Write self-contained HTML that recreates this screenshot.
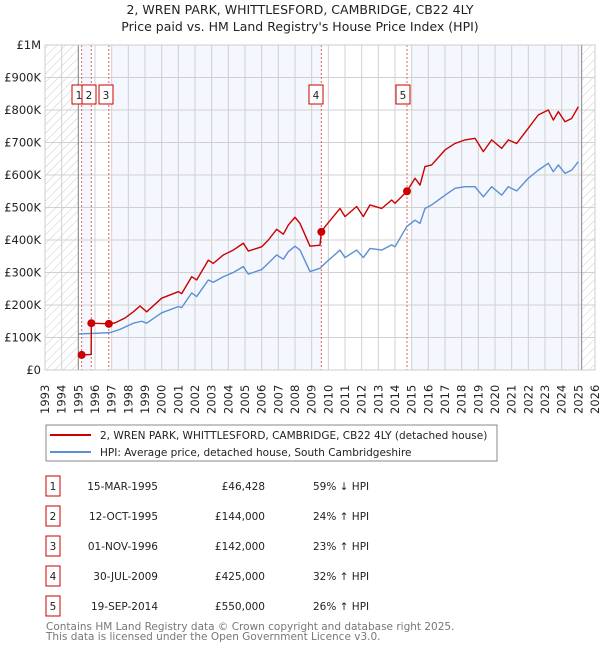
<!DOCTYPE html>
<html><head><meta charset="utf-8"><style>
body{margin:0;background:#fff;font-family:"DejaVu Sans","Liberation Sans",sans-serif;}
svg text{font-family:"DejaVu Sans","Liberation Sans",sans-serif;}
</style></head><body>
<svg id="c" width="600" height="650" xmlns="http://www.w3.org/2000/svg">
<defs><pattern id="h" width="6" height="6" patternUnits="userSpaceOnUse" patternTransform="rotate(45)"><line x1="0" y1="0" x2="0" y2="6" stroke="#ccc" stroke-width="1"/></pattern></defs>
<text x="300" y="14" text-anchor="middle" font-size="12.5" fill="#222">2, WREN PARK, WHITTLESFORD, CAMBRIDGE, CB22 4LY</text>
<text x="300" y="31" text-anchor="middle" font-size="12.5" fill="#222">Price paid vs. HM Land Registry's House Price Index (HPI)</text>
<g id="plot"></g>
<rect x="46" y="425" width="451" height="36" fill="#fff" stroke="#888"/>
<line x1="50" y1="435" x2="91" y2="435" stroke="#cc0000" stroke-width="2"/>
<text x="100" y="439" font-size="10.5" fill="#222">2, WREN PARK, WHITTLESFORD, CAMBRIDGE, CB22 4LY (detached house)</text>
<line x1="50" y1="452" x2="91" y2="452" stroke="#5b8fd4" stroke-width="2"/>
<text x="100" y="456" font-size="10.5" fill="#222">HPI: Average price, detached house, South Cambridgeshire</text>
<g id="table"></g>
<text x="46" y="630" font-size="10.5" fill="#777">Contains HM Land Registry data © Crown copyright and database right 2025.</text>
<text x="46" y="640" font-size="10.5" fill="#777">This data is licensed under the Open Government Licence v3.0.</text>
</svg>
<script>
const hpiYears=[1995.0,1996.0,1996.9,1997.5,1998.3,1998.8,1999.1,2000.0,2001.0,2001.2,2001.8,2002.1,2002.8,2003.1,2003.7,2004.3,2004.9,2005.2,2006.0,2006.4,2006.9,2007.3,2007.6,2008.0,2008.3,2008.9,2009.5,2009.8,2010.7,2011.0,2011.7,2012.1,2012.5,2013.2,2013.8,2014.0,2014.7,2015.2,2015.5,2015.8,2016.2,2017.0,2017.6,2018.2,2018.8,2019.3,2019.8,2020.4,2020.8,2021.3,2022.0,2022.6,2023.2,2023.5,2023.8,2024.2,2024.6,2025.0];
const hpiValues=[111,113,115,125,144,150,144,176,195,192,237,226,277,270,287,300,318,295,309,329,354,341,364,381,369,303,313,328,369,346,369,346,374,369,385,379,441,461,451,497,508,538,559,564,564,533,564,538,564,551,590,615,636,610,631,605,615,641];
const priceYears=[1995.2,1995.77,1995.78,1996.83,1997.2,1997.8,1998.3,1998.7,1999.1,2000.0,2001.0,2001.2,2001.8,2002.1,2002.8,2003.1,2003.7,2004.3,2004.9,2005.2,2006.0,2006.4,2006.9,2007.3,2007.6,2008.0,2008.3,2008.9,2009.5,2009.58,2009.8,2010.7,2011.0,2011.7,2012.1,2012.5,2013.2,2013.8,2014.0,2014.72,2015.2,2015.5,2015.8,2016.2,2017.0,2017.6,2018.2,2018.8,2019.3,2019.8,2020.4,2020.8,2021.3,2022.0,2022.6,2023.2,2023.5,2023.8,2024.2,2024.6,2025.0];
const priceValues=[46,48,144,142,145,160,179,197,179,221,241,235,287,277,338,328,354,369,390,366,379,400,433,418,446,470,451,381,384,425,441,497,472,503,472,508,497,523,513,550,590,569,626,631,677,697,708,713,672,708,682,708,697,744,785,800,769,795,764,774,810];
const saleYears=[1995.2,1995.78,1996.83,2009.58,2014.72];
const saleValues=[46.428,144,142,425,550];
const saleLabels=["1","2","3","4","5"];
const saleDates=["15-MAR-1995","12-OCT-1995","01-NOV-1996","30-JUL-2009","19-SEP-2014"];
const salePrices=["£46,428","£144,000","£142,000","£425,000","£550,000"];
const saleHpi=["59% ↓ HPI","24% ↑ HPI","23% ↑ HPI","32% ↑ HPI","26% ↑ HPI"];
const yTicks=[0,100,200,300,400,500,600,700,800,900,1000];
const yTickLabels=["£0","£100K","£200K","£300K","£400K","£500K","£600K","£700K","£800K","£900K","£1M"];
const xTicks=[];for(let y=1993;y<=2026;y++)xTicks.push(y);

const X0=45,X1=595,Y0=370,Y1=45;
const xs=y=>X0+(y-1993)/(2026-1993)*(X1-X0);
const ys=v=>Y0-v/1000*(Y0-Y1);
const NS="http://www.w3.org/2000/svg";
const plot=document.getElementById('plot');
function mk(tag,attrs,parent){const e=document.createElementNS(NS,tag);for(const k in attrs)e.setAttribute(k,attrs[k]);(parent||plot).appendChild(e);return e;}

let e;
e=mk('rect',{x:X0,y:Y1,width:X1-X0,height:Y0-Y1,fill:'#fff'});


const bands=[[saleYears[0],saleYears[1]],[1997.0,saleYears[3]],[2014.95,2025.2]];
bands.forEach(b=>{e=mk('rect',{x:xs(b[0]),y:Y1,width:xs(b[1])-xs(b[0]),height:Y0-Y1,fill:'#f4f7fd'});

});
e=mk('rect',{x:X0,y:Y1,width:xs(1995)-X0,height:Y0-Y1,fill:'url(#h)'});


e=mk('rect',{x:xs(2025.2),y:Y1,width:X1-xs(2025.2),height:Y0-Y1,fill:'url(#h)'});


xTicks.forEach((t,i)=>{e=mk('line',{x1:xs(t),x2:xs(t),y1:Y1,y2:Y0,stroke:'#d0d0d0','stroke-width':1});


e=mk('text',{x:0,y:0,transform:`translate(${xs(t)+4},${Y0+44}) rotate(-90)`,'font-size':11.5,fill:'#222'});e.textContent=t;

});
yTicks.forEach((t,i)=>{e=mk('line',{x1:X0,x2:X1,y1:ys(t),y2:ys(t),stroke:'#d0d0d0','stroke-width':1});


e=mk('text',{x:X0-4,y:ys(t)+4,'text-anchor':'end','font-size':11.5,fill:'#222'});e.textContent=yTickLabels[i];

});
[1995,2025.2].forEach(t=>{e=mk('line',{x1:xs(t),x2:xs(t),y1:Y1,y2:Y0,stroke:'#888','stroke-width':1});

});
saleYears.forEach((s,i)=>{e=mk('line',{x1:xs(s),x2:xs(s),y1:Y1,y2:Y0,stroke:'#e06060','stroke-width':1,'stroke-dasharray':'2,2'});


const bx=[72,82,99,309,396][i];
e=mk('rect',{x:bx,y:85,width:14,height:19,fill:'#fff',stroke:'#cc0000'});


e=mk('text',{x:bx+7,y:99,'text-anchor':'middle','font-size':10.5,fill:'#222'});e.textContent=saleLabels[i];

});
const line=(xa,va,col,name)=>{e=mk('polyline',{points:xa.map((x,i)=>xs(x)+','+ys(va[i])).join(' '),fill:'none',stroke:col,'stroke-width':1.4,'stroke-linejoin':'round'});

};
line(hpiYears,hpiValues,'#5b8fd4','hpi-line');
line(priceYears,priceValues,'#cc0000','price-paid-line');
saleYears.forEach((s,i)=>{e=mk('circle',{cx:xs(s),cy:ys(saleValues[i]),r:4,fill:'#cc0000'});

});
e=mk('rect',{x:X0,y:Y1,width:X1-X0,height:Y0-Y1,fill:'none',stroke:'#ccc'});



const tb=document.getElementById('table');
const rowY=[486,516,546,576,606];
saleLabels.forEach((l,i)=>{const y=rowY[i];
e=mk('rect',{x:46,y:y-10,width:14,height:20,fill:'#fff',stroke:'#cc0000'},tb);


e=mk('text',{x:53,y:y+4,'text-anchor':'middle','font-size':10.5,fill:'#222'},tb);e.textContent=l;


e=mk('text',{x:158,y:y+4,'text-anchor':'end','font-size':10.5,fill:'#222'},tb);e.textContent=saleDates[i];


e=mk('text',{x:265,y:y+4,'text-anchor':'end','font-size':10.5,fill:'#222'},tb);e.textContent=salePrices[i];


e=mk('text',{x:313,y:y+4,'font-size':10.5,fill:'#222'},tb);e.textContent=saleHpi[i];

});
</script>
</body></html>
